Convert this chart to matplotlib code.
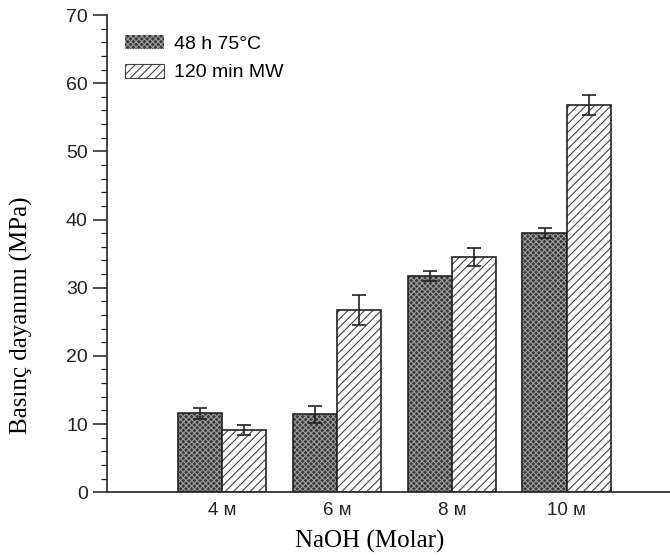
import matplotlib
matplotlib.use('Agg')
import matplotlib.pyplot as plt
import numpy as np
from matplotlib.patches import Patch

# values
categories = ['4 ᴍ', '6 ᴍ', '8 ᴍ', '10 ᴍ']
oven = [11.6, 11.4, 31.7, 38.0]          # 48 h 75°C
oven_err = [0.8, 1.2, 0.7, 0.7]
microwave = [9.1, 26.7, 34.5, 56.8]      # 120 min MW
microwave_err = [0.7, 2.2, 1.3, 1.5]
series_labels = ['48 h 75°C', '120 min MW']

plt.rcParams['font.family'] = ['Liberation Sans', 'DejaVu Sans']
plt.rcParams['hatch.linewidth'] = 0.8

fig = plt.figure(figsize=(6.7, 5.58), dpi=100)
ax = fig.add_axes([0.16, 0.118, 0.84, 0.855])

x = np.arange(len(categories))
w = 0.385

# dark checkered bars: fill + hatch, then outline on top
ax.bar(x - w / 2, oven, w, color='#3a3a3a', edgecolor='#9c9c9c', hatch='xxxxxx', linewidth=0)
ax.bar(x - w / 2, oven, w, fill=False, edgecolor='#222222', linewidth=1.2)
ax.errorbar(x - w / 2, oven, yerr=oven_err, fmt='none', ecolor='#222222', elinewidth=1.2, capsize=5, capthick=1.2)

# white bars with diagonal hatch
ax.bar(x + w / 2, microwave, w, color='white', edgecolor='#444444', hatch='////', linewidth=0)
ax.bar(x + w / 2, microwave, w, fill=False, edgecolor='#222222', linewidth=1.2)
ax.errorbar(x + w / 2, microwave, yerr=microwave_err, fmt='none', ecolor='#222222', elinewidth=1.2, capsize=5, capthick=1.2)

ax.set_xlim(-1.0, 3.9)
ax.set_ylim(0, 70)
ax.set_yticks(np.arange(0, 71, 10))
ax.set_yticks(np.arange(0, 71, 2), minor=True)
ax.set_xticks(x)
ax.set_xticklabels(categories, fontsize=13.5, color='#222222')
ax.tick_params(axis='x', length=0, pad=7)
ax.tick_params(axis='y', which='major', length=10, width=1.1, labelsize=14, colors='#222222', pad=4)
ax.tick_params(axis='y', which='minor', length=4, width=0.9, colors='#222222')

for s in ['top', 'right']:
    ax.spines[s].set_visible(False)
for s in ['left', 'bottom']:
    ax.spines[s].set_linewidth(1.2)
    ax.spines[s].set_color('#222222')

ax.set_ylabel('Basınç dayanımı (MPa)', family='Liberation Serif', fontsize=18)
ax.yaxis.set_label_coords(-0.131, 0.371)
ax.set_xlabel('NaOH (Molar)', family='Liberation Serif', fontsize=18)
ax.xaxis.set_label_coords(0.467, -0.079)

handles = [
    Patch(facecolor='#3a3a3a', edgecolor='#9c9c9c', hatch='xxxxxx', linewidth=0),
    Patch(facecolor='white', edgecolor='#444444', hatch='////', linewidth=0.8),
]
ax.legend(handles, series_labels, loc='upper left', bbox_to_anchor=(0.0, 0.995), frameon=False,
          fontsize=14, handlelength=2.0, handleheight=0.75, handletextpad=0.55, labelspacing=0.55)

fig.savefig('out.png', dpi=100)
